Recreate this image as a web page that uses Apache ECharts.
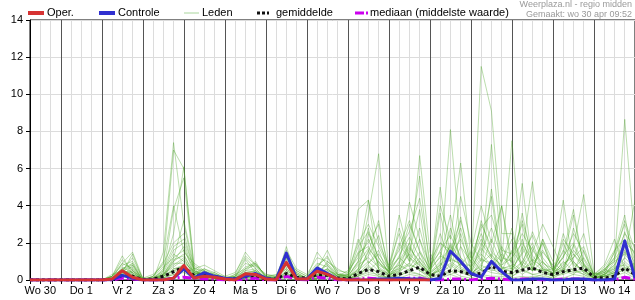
<!DOCTYPE html>
<html><head><meta charset="utf-8">
<script src="https://cdn.jsdelivr.net/npm/echarts@6/dist/echarts.min.js"></script>
<style>html,body{margin:0;padding:0;background:#fff}#c{width:635px;height:300px}</style>
</head><body><div id="c"></div>
<script>
// ---- data ----
const dayNames = ['Wo 30','Do 1','Vr 2','Za 3','Zo 4','Ma 5','Di 6','Wo 7','Do 8','Vr 9','Za 10','Zo 11','Ma 12','Di 13','Wo 14','Do 15'];
const hours = ['00','06','12','18'];
const yTicks = [0, 14, 2]; // min, max, step

const oper = [0,0,0,0,0,0,0,0, 0.05,0.5,0.15, 0,0,0,0.1, 0.78,0.1,0.2,0.15, 0.05,0,0.33,0.3, 0.05,0,0.95,0.05, 0.05,0.47,0.3,0.05, 0,0,0,0, 0,0,0,0, 0,
  null,null,null,null,null,null,null,null,null,null,null,null,null,null,null,null,null,null,null,null];
const controle = [0,0,0,0,0,0,0,0, 0.02,0.25,0.1, 0,0,0,0.1, 0.6,0.1,0.4,0.2, 0.1,0.05,0.2,0.35, 0.1,0,1.45,0.05, 0.05,0.65,0.35,0.05, 0,0,0,0.05, 0.05,0.1,0.05,0.05, 0,0.08,1.55,1.0, 0.35,0.15,1.0,0.45, 0,0,0.05,0.05, 0,0,0.05,0.05, 0,0,0.05,2.1, 0.1];
const gemiddelde = [0,0,0,0,0,0,0,0, 0.05,0.25,0.2, 0.02,0.05,0.2,0.45, 0.7,0.25,0.25,0.2, 0.05,0.05,0.2,0.25, 0.05,0.05,0.35,0.15, 0.1,0.3,0.25,0.1, 0.05,0.35,0.57,0.45, 0.2,0.3,0.5,0.69, 0.3,0.2,0.5,0.45, 0.3,0.35,0.75,0.47, 0.4,0.53,0.65,0.4, 0.3,0.45,0.55,0.65, 0.15,0.1,0.2,0.65, 0.3];
const mediaan = [0,0,0,0,0,0,0,0, 0,0.1,0.05, 0,0,0,0.1, 0.15,0.1,0.05,0.05, 0,0,0.05,0.1, 0,0,0.2,0.05, 0,0.15,0.1,0, 0,0.05,0.1,0.05, 0,0.05,0.1,0.1, 0,0,0.05,0.05, 0,0.05,0.1,0.05, 0,0.05,0.05,0, 0,0.05,0.05,0.05, 0,0,0,0.15, 0.05];

const leden = [
 [0,0,0,0,0,0,0,0, 0.2,1.3,0.3, 0,0,1.5,7.4, 3.0,0.5,0.3,0.2, 0,0.3,1.5,0.8, 0.3,0.2,1.4,0.2, 0.1,0.8,1.2,0.3, 0.2,1.0,3.5,6.8, 0.4,0.6,2.0,0.5, 0.2,0.8,8.1,1.8, 1.0,2.5,1.2,0.8, 1.5,3.0,0.6,2.0, 0.5,1.2,3.5,0.8, 0.2,0.5,1.5,3.0, 1.2],
 [0,0,0,0,0,0,0,0, 0.1,0.9,1.5, 0.1,0.3,0.8,7.0, 6.0,0.8,0.4,0.3, 0.1,0.2,0.5,0.9, 0.2,0.1,0.8,0.4, 0.1,0.4,0.6,0.2, 0.5,1.2,4.3,2.0, 0.8,2.5,1.0,6.7, 1.5,0.3,2.0,1.0, 0.5,11.5,9.1,2.5, 2.5,0.8,1.8,0.5, 0.2,2.5,1.0,0.4, 0.1,0.3,0.8,1.8, 0.5],
 [0,0,0,0,0,0,0,0, 0,0.6,0.9, 0,0.1,0.5,2.5, 6.1,0.6,0.2,0.1, 0,0.2,1.2,0.6, 0.1,0,1.8,0.1, 0,0.3,0.4,0.1, 0.1,3.8,4.3,0.5, 0.2,1.0,2.0,5.6, 0.5,2.5,1.0,4.5, 2.0,1.0,7.3,1.5, 0.6,1.5,5.3,0.8, 0.3,0.6,1.8,4.6, 0.4,0.2,1.0,8.65, 2.0],
 [0,0,0,0,0,0,0,0, 0.3,0.5,1.2, 0.1,0,0.4,3.8, 5.5,0.4,0.6,0.3, 0.2,0.1,1.1,0.4, 0.2,0.1,1.2,0.3, 0.1,1.5,0.8,0.2, 0.3,2.2,0.9,1.4, 0.6,3.5,1.2,0.8, 0.3,4.0,2.2,6.3, 1.2,0.5,4.9,1.0, 7.5,1.2,0.5,2.2, 1.0,0.4,2.8,1.1, 0.2,0.6,0.3,1.2, 4.3],
 [0,0,0,0,0,0,0,0, 0.1,0.4,0.3, 0,0.2,1.0,4.0, 1.5,0.9,0.5,0.2, 0.1,0.3,0.6,1.0, 0.1,0.2,1.1,0.5, 0.2,0.6,1.6,0.4, 0.2,0.5,2.5,1.2, 0.4,1.8,3.2,1.5, 0.6,1.2,3.5,0.8, 1.5,4.0,2.0,4.0, 1.0,5.2,0.8,1.5, 0.8,4.3,0.6,1.2, 0.3,0.8,2.2,0.6, 0.9],
 [0,0,0,0,0,0,0,0, 0.2,0.8,1.0, 0.1,0.1,0.3,1.2, 3.2,0.7,0.3,0.4, 0.1,0.2,0.9,0.7, 0.2,0.3,0.6,0.2, 0.1,0.2,1.0,0.6, 0.3,1.5,1.8,0.9, 0.5,0.8,4.2,2.2, 0.8,1.5,0.6,2.5, 0.5,3.2,1.5,1.0, 2.2,0.6,1.5,3.0, 1.8,0.5,1.2,2.5, 0.2,0.4,0.8,2.0, 1.5],
 [0,0,0,0,0,0,0,0, 0,0.7,0.4, 0,0.2,0.9,2.0, 2.5,0.5,0.2,0.1, 0,0.1,0.4,0.3, 0.1,0.1,0.9,0.1, 0,0.5,0.3,0.1, 0.1,0.6,2.8,0.6, 0.3,0.5,1.5,3.8, 0.2,5.0,1.2,0.8, 0.8,1.8,4.5,0.6, 0.5,3.6,1.0,0.5, 0.6,1.5,3.8,0.7, 0.2,0.3,1.5,3.5, 0.4],
 [0,0,0,0,0,0,0,0, 0.1,0.3,0.6, 0,0,0.2,1.0, 1.8,0.3,0.4,0.2, 0,0,0.2,0.4, 0,0,0.5,0.2, 0.1,0.2,0.6,0.2, 0.2,0.4,1.5,3.2, 0.4,1.2,0.7,1.5, 0.2,0.6,2.8,1.2, 0.3,2.0,1.2,4.0, 0.6,2.2,0.5,1.0, 0.3,2.0,0.8,0.5, 0.1,0.2,0.5,1.5, 0.8],
 [0,0,0,0,0,0,0,0, 0.2,1.1,0.5, 0.1,0.1,0.6,1.8, 2.2,0.6,0.8,0.5, 0.2,0.4,1.3,0.8, 0.3,0.2,1.6,0.6, 0.3,1.2,1.0,0.5, 0.4,2.0,3.0,1.8, 0.7,1.6,2.6,4.4, 1.0,2.0,1.6,3.2, 1.2,2.8,3.5,1.6, 1.4,2.5,1.6,0.9, 0.6,1.2,2.5,1.5, 0.3,0.5,1.2,2.5, 1.8],
 [0,0,0,0,0,0,0,0, 0,0.4,1.4, 0,0,0.3,0.8, 1.2,0.2,0.1,0, 0,0,0.1,0.2, 0,0,0.4,0, 0,0.1,0.2,0, 0,0.3,0.6,0.2, 0.1,0.4,0.9,0.5, 0.1,0.3,0.8,0.4, 0.2,0.6,0.4,0.3, 0.2,0.5,0.3,0.2, 0.1,0.4,0.6,0.3, 0.1,0.2,0.3,0.9, 0.3],
 [0,0,0,0,0,0,0,0, 0.1,0.2,0.8, 0,0.1,0.4,1.4, 1.0,0.4,0.2,0.1, 0,0.1,0.3,0.5, 0.1,0.1,0.7,0.3, 0.1,0.3,0.5,0.2, 0.1,0.8,1.2,0.7, 0.3,0.9,1.8,0.9, 0.4,1.0,1.8,0.7, 0.4,1.2,0.7,1.4, 0.5,1.0,2.0,0.6, 0.4,0.7,1.6,0.9, 0.1,0.3,0.6,1.2, 0.6],
 [0,0,0,0,0,0,0,0, 0.2,0.6,0.2, 0,0,0.2,0.6, 0.8,0.3,0.5,0.2, 0,0.1,0.2,0.3, 0,0,0.3,0.1, 0,0.2,0.3,0.1, 0.1,0.2,0.5,1.0, 0.2,0.3,0.6,1.0, 0.3,0.5,0.4,0.9, 0.3,0.8,0.5,0.6, 0.8,0.3,0.7,0.4, 0.2,0.5,0.3,0.8, 0.1,0.2,0.4,0.5, 0.2],
 [0,0,0,0,0,0,0,0, 0,0.5,0.7, 0,0,0.1,0.4, 0.6,0.2,0.1,0.1, 0,0,0.1,0.2, 0,0,0.2,0.1, 0,0.1,0.2,0.1, 0,0.2,0.8,0.3, 0.1,0.2,0.5,0.3, 0,0.2,0.5,0.2, 0.1,0.3,0.2,0.2, 0.1,0.2,0.1,0.3, 0.1,0.1,0.3,0.2, 0,0.1,0.2,0.4, 0.1],
 [0,0,0,0,0,0,0,0, 0.1,0.3,0.2, 0,0,0.1,0.3, 0.5,0.2,0.3,0.1, 0,0,0.1,0.1, 0,0,0.1,0, 0,0.1,0.1,0, 0,0.1,0.3,0.2, 0.1,0.1,0.3,0.2, 0,0.1,0.3,0.1, 0,0.2,0.1,0.1, 0,0.1,0.2,0.1, 0,0.1,0.1,0.1, 0,0,0.1,0.2, 0],
 [0,0,0,0,0,0,0,0, 0,0.2,0.5, 0,0,0.2,0.9, 0.9,0.5,0.3,0.2, 0.1,0,0.2,0.2, 0.1,0,0.3,0.2, 0.1,0.2,0.3,0.1, 0,0.4,1.6,0.6, 0.2,0.6,0.9,2.2, 0.3,0.9,0.5,1.8, 0.2,1.1,0.9,0.4, 0.3,1.0,0.5,2.2, 0.6,0.3,1.0,0.4, 0.1,0.2,0.4,1.0, 0.5],
 [0,0,0,0,0,0,0,0, 0.1,0.5,0.3, 0,0.1,0.3,1.0, 1.4,0.3,0.2,0.1, 0,0.1,0.5,0.6, 0.1,0.1,1.0,0.3, 0.1,0.4,0.9,0.3, 0.2,1.0,2.2,0.8, 0.5,2.8,1.2,0.6, 0.4,0.8,1.3,2.2, 0.9,3.0,1.8,0.5, 1.6,0.8,2.6,1.2, 0.5,1.6,0.9,0.5, 0.2,0.6,1.0,1.4, 0.7],
 [0,0,0,0,0,0,0,0, 0,0.3,0.4, 0,0,0.1,0.6, 0.7,0.2,0.4,0.2, 0,0.1,0.2,0.3, 0.1,0,0.5,0.2, 0,0.1,0.4,0.2, 0.1,0.3,0.9,1.6, 0.2,0.7,1.4,0.8, 0.2,0.7,1.9,0.6, 0.3,0.9,1.4,0.7, 0.4,1.8,0.6,0.5, 0.3,0.8,1.4,0.6, 0.1,0.3,0.7,0.8, 0.4],
 [0,0,0,0,0,0,0,0, 0.1,0.4,0.2, 0,0,0.3,0.7, 1.1,0.3,0.2,0.1, 0,0,0.3,0.4, 0,0.1,0.8,0.1, 0,0.3,0.6,0.1, 0.1,0.5,1.0,0.5, 0.2,0.8,0.5,1.2, 0.2,0.6,1.1,0.9, 0.5,1.4,0.8,1.8, 0.9,0.5,1.1,0.7, 0.3,1.0,0.5,1.6, 0.2,0.4,0.6,2.6, 1.0],
 [0,0,0,0,0,0,0,0, 0,0.2,0.1, 0,0,0.1,0.3, 0.4,0.1,0.1,0, 0,0,0.1,0.1, 0,0,0.2,0.1, 0,0,0.2,0.1, 0,0.2,0.4,0.3, 0.1,0.3,0.4,0.3, 0.1,0.4,0.3,0.5, 0.2,0.5,0.6,0.3, 0.2,0.6,0.3,0.4, 0.2,0.3,0.5,0.3, 0,0.1,0.3,0.6, 0.2],
 [0,0,0,0,0,0,0,0, 0.1,0.6,0.8, 0,0.1,0.5,1.6, 2.0,0.4,0.3,0.2, 0.1,0.1,0.6,0.8, 0.2,0.1,1.2,0.4, 0.1,0.7,1.3,0.3, 0.3,1.4,2.0,3.0, 0.6,1.2,3.0,1.6, 0.6,2.0,1.4,2.8, 1.0,2.2,1.3,0.8, 1.2,2.0,1.0,2.0, 0.5,2.2,1.4,0.8, 0.3,0.7,1.6,2.2, 1.4],
 [0,0,0,0,0,0,0,0, 0.2,0.9,0.6, 0,0.2,0.7,1.2, 1.6,0.6,0.5,0.3, 0.1,0.2,0.7,0.9, 0.2,0.2,1.3,0.5, 0.2,0.9,0.7,0.2, 0.2,1.8,2.6,1.2, 0.4,2.0,1.0,2.8, 0.6,1.6,2.4,1.2, 0.7,1.5,2.8,1.2, 1.0,3.2,1.3,0.6, 0.4,1.3,2.0,0.9, 0.3,0.4,1.1,1.9, 0.9],
 [0,0,0,0,0,0,0,0, 0,0.4,0.9, 0,0,0.2,0.5, 0.6,0.3,0.6,0.4, 0.1,0.1,0.4,0.5, 0.1,0.1,0.6,0.2, 0,0.2,0.5,0.3, 0.1,0.6,1.3,2.4, 0.3,0.4,1.7,1.0, 0.2,3.6,1.0,0.6, 0.4,0.7,2.2,0.9, 2.8,0.6,0.9,1.6, 0.7,0.4,1.9,0.6, 0.1,0.3,0.5,1.6, 0.6],
 [0,0,0,0,0,0,0,0, 0.1,0.3,0.5, 0,0.1,0.2,0.5, 0.8,0.2,0.2,0.1, 0,0,0.2,0.2, 0,0,0.4,0.1, 0,0.1,0.3,0.1, 0,0.3,0.7,0.4, 0.1,0.5,0.8,0.6, 0.2,0.5,0.9,0.5, 0.3,0.6,0.9,0.4, 0.3,0.8,0.5,0.6, 0.2,0.6,0.4,0.5, 0.1,0.2,0.4,0.7, 0.3],
 [0,0,0,0,0,0,0,0, 0,0.5,0.4, 0,0,0.3,1.1, 1.3,0.4,0.3,0.1, 0,0.1,0.4,0.5, 0.1,0.1,0.8,0.2, 0.1,0.4,0.8,0.3, 0.2,0.9,1.7,1.0, 0.4,1.3,2.3,1.2, 0.5,1.3,1.0,3.4, 0.6,1.7,1.1,0.7, 0.6,1.4,2.4,1.0, 0.4,0.9,1.2,1.8, 0.2,0.5,1.2,3.2, 1.6]
];

// ---- build ----
const categories = [];
for (let d = 0; d < dayNames.length && categories.length < 60; d++) {
  for (let h = 0; h < hours.length && categories.length < 60; h++) {
    if (d === 0 && h === 0) continue;
    categories.push(dayNames[d] + '|' + hours[h]);
  }
}

const FONT = '"Liberation Sans", Arial, sans-serif';
const series = [];
leden.forEach((m) => series.push({
  name: 'Leden', type: 'line', data: m, symbol: 'none', silent: true,
  lineStyle: { color: 'rgba(75,165,40,0.38)', width: 1 }, z: 2
}));
series.push({ name: 'mediaan', type: 'line', data: mediaan, symbol: 'none', silent: true,
  lineStyle: { color: '#cc00ee', width: 3, type: [9, 3, 2, 3] }, z: 3 });
series.push({ name: 'gemiddelde', type: 'line', data: gemiddelde, symbol: 'none', silent: true,
  lineStyle: { color: '#111', width: 3, type: [3, 3], cap: 'butt' }, z: 4 });
series.push({ name: 'Controle', type: 'line', data: controle, symbol: 'none', silent: true,
  lineStyle: { color: '#3030d0', width: 3, join: 'round' }, z: 5 });
series.push({ name: 'Oper.', type: 'line', data: oper, symbol: 'none', silent: true, connectNulls: false,
  lineStyle: { color: '#d63333', width: 3, join: 'round' }, z: 6 });

const legendY = 13;
const graphic = [
  { type: 'line', shape: { x1: 28, y1: legendY, x2: 44, y2: legendY }, style: { stroke: '#d63333', lineWidth: 4 } },
  { type: 'text', x: 47, y: legendY, style: { text: 'Oper.', font: '11px ' + FONT, fill: '#000', verticalAlign: 'middle' } },
  { type: 'line', shape: { x1: 99, y1: legendY, x2: 115, y2: legendY }, style: { stroke: '#3030d0', lineWidth: 4 } },
  { type: 'text', x: 118, y: legendY, style: { text: 'Controle', font: '11px ' + FONT, fill: '#000', verticalAlign: 'middle' } },
  { type: 'line', shape: { x1: 184, y1: legendY, x2: 199, y2: legendY }, style: { stroke: '#a9d69c', lineWidth: 1 } },
  { type: 'text', x: 202, y: legendY, style: { text: 'Leden', font: '11px ' + FONT, fill: '#000', verticalAlign: 'middle' } },
  { type: 'line', shape: { x1: 257, y1: legendY, x2: 269, y2: legendY }, style: { stroke: '#111', lineWidth: 3, lineDash: [3, 2] } },
  { type: 'text', x: 276, y: legendY, style: { text: 'gemiddelde', font: '11px ' + FONT, fill: '#000', verticalAlign: 'middle' } },
  { type: 'line', shape: { x1: 355, y1: legendY, x2: 368, y2: legendY }, style: { stroke: '#cc00ee', lineWidth: 3, lineDash: [9, 2, 2, 2] } },
  { type: 'text', x: 370, y: legendY, style: { text: 'mediaan (middelste waarde)', font: '11px ' + FONT, fill: '#000', verticalAlign: 'middle' } },
  { type: 'text', x: 632, y: 5, style: { text: 'Weerplaza.nl - regio midden', font: '9px ' + FONT, fill: '#9a9a9a', align: 'right', verticalAlign: 'middle' } },
  { type: 'text', x: 632, y: 15, style: { text: 'Gemaakt: wo 30 apr 09:52', font: '9px ' + FONT, fill: '#9a9a9a', align: 'right', verticalAlign: 'middle' } }
];

const chart = echarts.init(document.getElementById('c'), null, { renderer: 'canvas' });
chart.setOption({
  animation: false,
  backgroundColor: '#fff',
  textStyle: { fontFamily: FONT },
  grid: { left: 30, right: 0, top: 20, bottom: 20, containLabel: false, outerBoundsMode: 'none',
          show: true, borderColor: '#000', borderWidth: 1, backgroundColor: 'transparent' },
  xAxis: {
    type: 'category', data: categories, boundaryGap: false,
    axisLine: { show: true, onZero: false, lineStyle: { color: '#000', width: 1 } },
    axisTick: { show: true, interval: 0, length: 4, lineStyle: { color: '#000' } },
    axisLabel: { interval: 0, margin: 5, color: '#000', fontSize: 11, fontFamily: FONT,
      formatter: v => { const p = v.split('|'); return p[1] === '12' ? p[0] : ''; } },
    splitLine: { show: true, interval: 0, lineStyle: { color: ['#dcdcdc', '#dcdcdc', '#dcdcdc', '#555'], width: 1 } }
  },
  yAxis: {
    type: 'value', min: yTicks[0], max: yTicks[1], interval: yTicks[2],
    axisLine: { show: true, lineStyle: { color: '#000', width: 1 } },
    axisTick: { show: true, length: 4, lineStyle: { color: '#000' } },
    axisLabel: { margin: 7, color: '#000', fontSize: 11, fontFamily: FONT },
    splitLine: { show: true, lineStyle: { color: '#dcdcdc', width: 1 } }
  },
  graphic: graphic,
  series: series
});
</script>
</body></html>
